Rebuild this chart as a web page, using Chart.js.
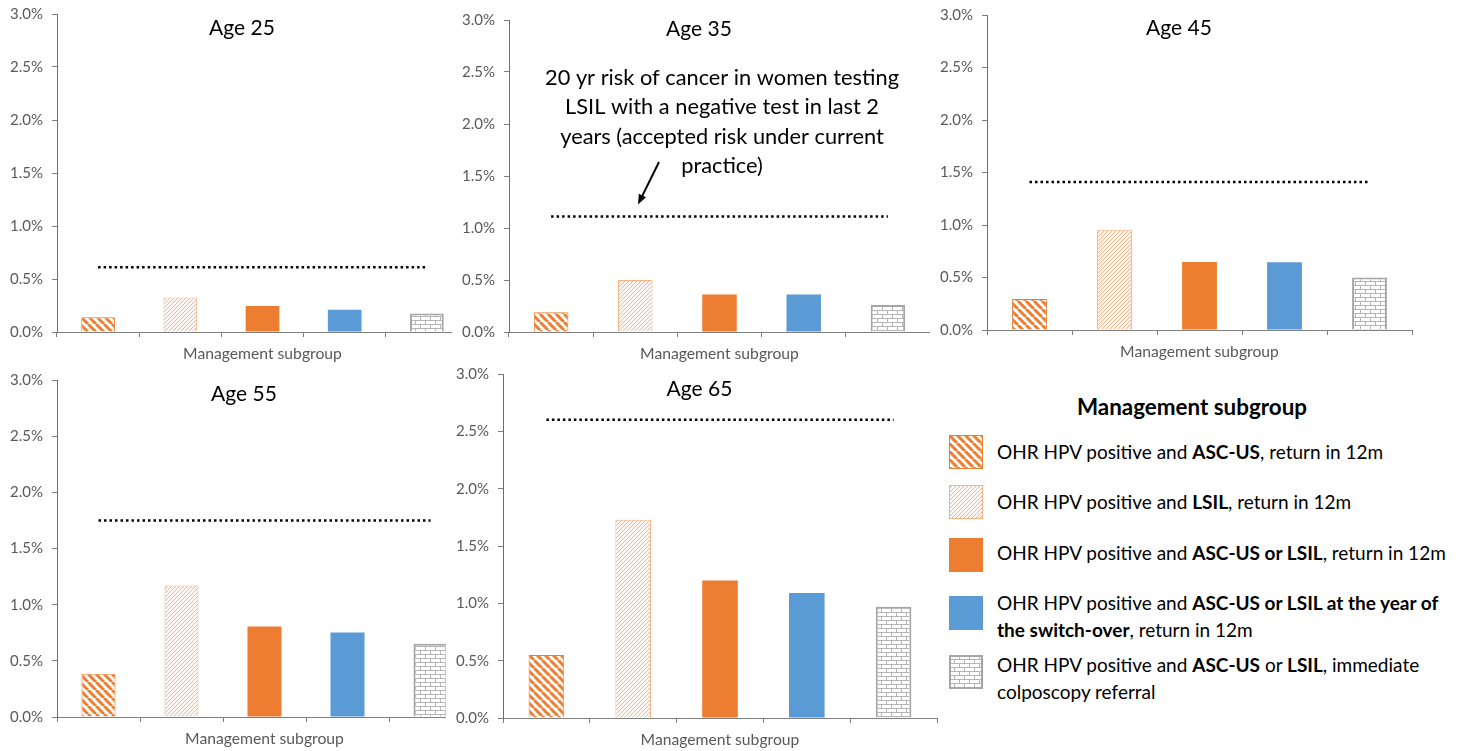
<!DOCTYPE html>
<html>
<head>
<meta charset="utf-8">
<script src="https://cdn.jsdelivr.net/npm/chart.js@4.4.1/dist/chart.umd.min.js"></script>
<style>
  html, body { margin: 0; padding: 0; background: #fff; }
  body { width: 1468px; height: 751px; position: relative; overflow: hidden; font-family: Lato, sans-serif; }
  .box { position: absolute; background: #fff; }
  #legendTitle { position: absolute; left: 992px; width: 400px; top: 393px; text-align: center; font-weight: bold; font-size: 22.4px; color: #000; }
  .item { position: absolute; left: 997px; font-size: 19px; line-height: 27px; color: #000; white-space: nowrap; }
  .swatch { position: absolute; left: 949px; width: 34px; height: 34px; }
</style>
</head>
<body>

<div class="box" id="b1"><canvas id="c1"></canvas></div>
<div class="box" id="b2"><canvas id="c2"></canvas></div>
<div class="box" id="b3"><canvas id="c3"></canvas></div>
<div class="box" id="b4"><canvas id="c4"></canvas></div>
<div class="box" id="b5"><canvas id="c5"></canvas></div>

<div id="legendTitle">Management subgroup</div>
<canvas class="swatch" id="s1" width="34" height="34" style="top:435px"></canvas>
<canvas class="swatch" id="s2" width="34" height="34" style="top:485px"></canvas>
<canvas class="swatch" id="s3" width="34" height="34" style="top:538px"></canvas>
<canvas class="swatch" id="s4" width="34" height="34" style="top:596px"></canvas>
<canvas class="swatch" id="s5" width="34" height="34" style="top:655px"></canvas>
<div class="item" style="top:438px">OHR HPV positive and <b>ASC-US</b>, return in 12m</div>
<div class="item" style="top:488px">OHR HPV positive and <b>LSIL</b>, return in 12m</div>
<div class="item" style="top:539px">OHR HPV positive and <b>ASC-US or LSIL</b>, return in 12m</div>
<div class="item" style="top:589px">OHR HPV positive and <b>ASC-US or LSIL at the year of<br>the switch-over</b>, return in 12m</div>
<div class="item" style="top:651px">OHR HPV positive and <b>ASC-US</b> or <b>LSIL</b>, immediate<br>colposcopy referral</div>

<script>
// values, in percent
const ages = ['Age 25', 'Age 35', 'Age 45', 'Age 55', 'Age 65'];
const subgroups = [
  'OHR HPV positive and ASC-US, return in 12m',
  'OHR HPV positive and LSIL, return in 12m',
  'OHR HPV positive and ASC-US or LSIL, return in 12m',
  'OHR HPV positive and ASC-US or LSIL at the year of the switch-over, return in 12m',
  'OHR HPV positive and ASC-US or LSIL, immediate colposcopy referral'
];
const age25 = [0.14, 0.325, 0.245, 0.21, 0.175];
const age35 = [0.19, 0.50, 0.36, 0.36, 0.26];
const age45 = [0.295, 0.955, 0.648, 0.645, 0.50];
const age55 = [0.385, 1.17, 0.805, 0.753, 0.652];
const age65 = [0.55, 1.73, 1.20, 1.09, 0.97];
const acceptedRisk = [0.61, 1.11, 1.41, 1.75, 2.60];
const noteLines = [
  '20 yr risk of cancer in women testing',
  'LSIL with a negative test in last 2',
  'years (accepted risk under current',
  'practice)'
];

Chart.defaults.font.family = 'Lato, sans-serif';

const ORANGE = '#ED7D31', PEACH = '#F4B183', BLUE = '#5B9BD5', GREY = '#A5A5A5';

function stripes(color, size, width, dir, bg) {
  const c = document.createElement('canvas');
  c.width = size; c.height = size;
  const g = c.getContext('2d');
  g.fillStyle = bg || '#fff';
  g.fillRect(0, 0, size, size);
  g.strokeStyle = color;
  g.lineWidth = width;
  g.beginPath();
  for (let k = -size; k <= size; k += size) {
    if (dir === 'down') { g.moveTo(k, 0); g.lineTo(k + size, size); }
    else { g.moveTo(k, size); g.lineTo(k + size, 0); }
  }
  g.stroke();
  return g.createPattern(c, 'repeat');
}

function bricks() {
  const c = document.createElement('canvas');
  c.width = 10; c.height = 8;
  const g = c.getContext('2d');
  g.fillStyle = '#fff';
  g.fillRect(0, 0, 10, 8);
  g.strokeStyle = '#b4b4b4';
  g.lineWidth = 1;
  g.beginPath();
  g.moveTo(0, 0.5); g.lineTo(10, 0.5);
  g.moveTo(0, 4.5); g.lineTo(10, 4.5);
  g.moveTo(0.5, 0); g.lineTo(0.5, 4);
  g.moveTo(5.5, 4); g.lineTo(5.5, 8);
  g.stroke();
  return g.createPattern(c, 'repeat');
}

const fills = [stripes(ORANGE, 8, 3, 'down'), stripes('#F5B48A', 4, 1, 'up', '#FEF6F0'), ORANGE, BLUE, bricks()];
const borders = [ORANGE, PEACH, ORANGE, BLUE, GREY];
const borderWidths = [1, 1, 0, 0, 2];

// legend swatches
['s1', 's2', 's3', 's4', 's5'].forEach((id, i) => {
  const g = document.getElementById(id).getContext('2d');
  g.fillStyle = fills[i];
  g.fillRect(0, 0, 34, 34);
  if (borderWidths[i]) {
    g.strokeStyle = borders[i];
    g.lineWidth = borderWidths[i];
    g.strokeRect(borderWidths[i] / 2, borderWidths[i] / 2, 34 - borderWidths[i], 34 - borderWidths[i]);
  }
});

const ageTitle = {
  id: 'ageTitle',
  afterDraw(chart, args, opts) {
    const {ctx, chartArea} = chart;
    ctx.save();
    ctx.font = '21px Lato, sans-serif';
    ctx.fillStyle = '#000';
    ctx.textAlign = 'center';
    ctx.textBaseline = 'middle';
    ctx.fillText(opts.text, chart.width / 2 + 3, chartArea.top + opts.dy);
    ctx.restore();
  }
};

const riskNote = {
  id: 'riskNote',
  afterDraw(chart, args, opts) {
    if (!opts.lines) return;
    const {ctx, chartArea, scales} = chart;
    ctx.save();
    ctx.font = '21.8px Lato, sans-serif';
    ctx.fillStyle = '#000';
    ctx.textAlign = 'center';
    ctx.textBaseline = 'middle';
    opts.lines.forEach((t, i) => ctx.fillText(t, chartArea.left + 213, chartArea.top + 58 + i * 29.3));
    // arrow pointing at the dotted line
    const yLine = scales.y.getPixelForValue(opts.value);
    const x1 = chartArea.left + 150, y1 = chartArea.top + 142;
    const x2 = chartArea.left + 129, y2 = yLine - 12;
    const a = Math.atan2(y2 - y1, x2 - x1);
    ctx.strokeStyle = '#000';
    ctx.lineWidth = 2;
    ctx.beginPath();
    ctx.moveTo(x1, y1);
    ctx.lineTo(x2 - 6 * Math.cos(a), y2 - 6 * Math.sin(a));
    ctx.stroke();
    ctx.beginPath();
    ctx.moveTo(x2, y2);
    ctx.lineTo(x2 - 10 * Math.cos(a) + 4 * Math.sin(a), y2 - 10 * Math.sin(a) - 4 * Math.cos(a));
    ctx.lineTo(x2 - 10 * Math.cos(a) - 4 * Math.sin(a), y2 - 10 * Math.sin(a) + 4 * Math.cos(a));
    ctx.closePath();
    ctx.fill();
    ctx.restore();
  }
};

// plot areas [left, top, right, bottom] in page pixels, title offset from plot top
const panels = [
  {id: 'c1', box: 'b1', values: age25, plot: [57, 14, 468, 332], dy: 14},
  {id: 'c2', box: 'b2', values: age35, plot: [509, 20, 930, 332], dy: 9, note: true},
  {id: 'c3', box: 'b3', values: age45, plot: [987, 15, 1412, 330], dy: 13},
  {id: 'c4', box: 'b4', values: age55, plot: [57, 380, 472, 717], dy: 14},
  {id: 'c5', box: 'b5', values: age65, plot: [503, 374, 937, 718], dy: 15}
];

const Y_W = 57, X_H = 31, PAD_T = 10, PAD_R = 10;

panels.forEach((p, i) => {
  const [L, T, R, B] = p.plot;
  const box = document.getElementById(p.box);
  box.style.left = (L - Y_W) + 'px';
  box.style.top = (T - PAD_T) + 'px';
  box.style.width = (R - L + Y_W + PAD_R) + 'px';
  box.style.height = (B - T + PAD_T + X_H) + 'px';

  new Chart(document.getElementById(p.id), {
    type: 'bar',
    data: {
      labels: subgroups,
      datasets: [
        {
          type: 'line',
          data: subgroups.map(() => acceptedRisk[i]),
          borderColor: '#000',
          borderWidth: 2.5,
          borderDash: [2.5, 3],
          pointRadius: 0,
          fill: false
        },
        {
          data: p.values,
          backgroundColor: fills,
          borderColor: borders,
          borderWidth: borderWidths,
          barPercentage: 0.41,
          categoryPercentage: 1
        }
      ]
    },
    options: {
      responsive: true,
      maintainAspectRatio: false,
      animation: false,
      layout: { padding: { top: PAD_T, right: PAD_R, left: 0, bottom: 0 } },
      plugins: {
        legend: { display: false },
        tooltip: { enabled: false },
        ageTitle: { text: ages[i], dy: p.dy },
        riskNote: p.note ? { lines: noteLines, value: acceptedRisk[i] } : {}
      },
      scales: {
        x: {
          grid: { drawOnChartArea: false, drawTicks: true, tickLength: 5, color: '#7f7f7f' },
          border: { color: '#7f7f7f' },
          ticks: { display: false },
          title: { display: true, text: 'Management subgroup', color: '#595959', font: { size: 15.7 }, padding: 0 },
          afterFit(s) { s.height = X_H; s.paddingLeft = 0; s.paddingRight = 0; }
        },
        y: {
          min: 0,
          max: 3,
          ticks: { stepSize: 0.5, callback: v => v.toFixed(1) + '%', color: '#595959', font: { size: 15 }, padding: 9 },
          grid: { drawOnChartArea: false, drawTicks: true, tickLength: 5, color: '#7f7f7f' },
          border: { color: '#6f6f6f' },
          afterFit(s) { s.width = Y_W; s.paddingTop = 0; s.paddingBottom = 0; }
        }
      }
    },
    plugins: [ageTitle, riskNote]
  });
});
</script>
</body>
</html>
